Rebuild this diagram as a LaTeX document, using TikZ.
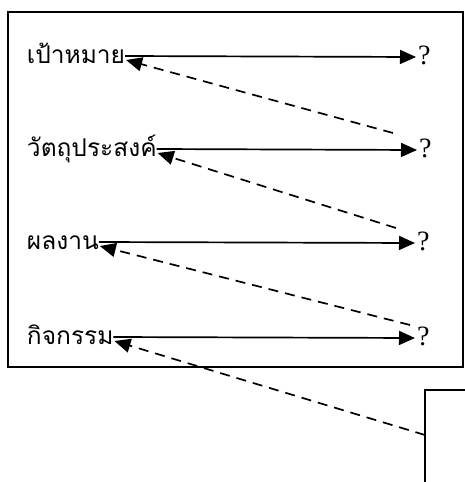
\documentclass[tikz,border=0pt]{standalone}
\usepackage{fontspec}
\setmainfont{Liberation Serif}
\newfontfamily\thaifont[Script=Thai]{Loma}
\usetikzlibrary{arrows.meta}
\begin{document}
\begin{tikzpicture}[x=1pt,y=-1pt,
  frame/.style={draw,line width=1.6pt},
  label/.style={font=\thaifont\fontsize{24.5}{26}\selectfont,anchor=west,inner sep=0pt,outer sep=0pt,text height=14pt,text depth=0pt},
  qmark/.style={font=\fontsize{28}{28}\selectfont,anchor=west,inner sep=0pt,outer sep=0pt,text height=14pt,text depth=0pt},
  goal/.style={line width=1.7pt,-{Triangle[length=16pt,width=14pt]}},
  back/.style={line width=1.7pt,dash pattern=on 10pt off 7pt,-{Triangle[length=16pt,width=14pt]}}]
\useasboundingbox (0,0) rectangle (464,482);
% outer frames
\draw[frame] (8,12) rectangle (463,367);
\draw[frame] (470,390) -- (425,390) -- (425,490);
% row labels
\node[label] (t1) at (27,56) {เป้าหมาย};
\node[label] (t2) at (27,149) {วัตถุประสงค์};
\node[label] (t3) at (27,242) {ผลงาน};
\node[label] (t4) at (27,337) {กิจกรรม};
% question marks
\node[qmark] (q1) at (418,57) {?};
\node[qmark] (q2) at (419,150) {?};
\node[qmark] (q3) at (417,243) {?};
\node[qmark] (q4) at (417,338) {?};
% starts of the dashed return arrows
\coordinate (d1) at (393,133);
\coordinate (d2) at (396,228);
\coordinate (d3) at (410,325);
\coordinate (d4) at (425,435);
% forward arrows
\foreach \i in {1,...,4} \draw[goal] (t\i.east) -- ([xshift=-2pt]q\i.west);
% return arrows
\foreach \i in {1,...,4} \draw[back] (d\i) -- ([shift={(1,4)}]t\i.east);
\end{tikzpicture}
\end{document}
